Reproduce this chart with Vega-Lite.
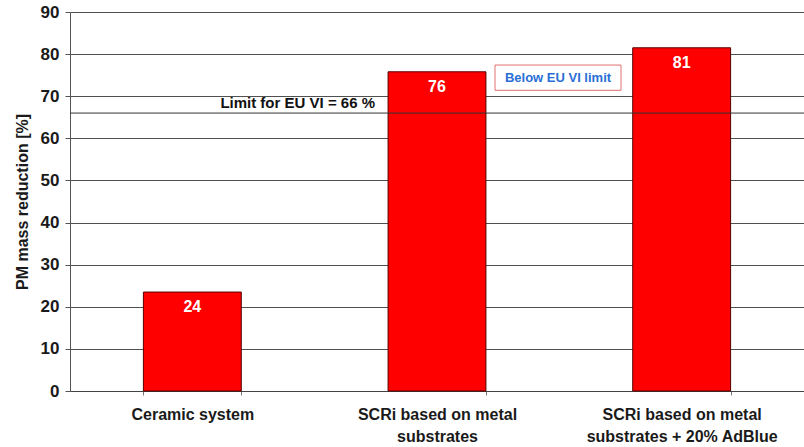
{
  "$schema": "https://vega.github.io/schema/vega-lite/v6.json",
  "width": 734,
  "height": 379,
  "autosize": "none",
  "padding": {"left": 70, "top": 12, "right": 0, "bottom": 56},
  "background": "white",
  "config": {
    "view": {"stroke": null},
    "font": "Liberation Sans"
  },
  "datasets": {
    "bars": [
      {"category": "Ceramic system", "value": 23.5, "label": "24"},
      {"category": "SCRi based on metal|substrates", "value": 75.8, "label": "76"},
      {"category": "SCRi based on metal|substrates + 20% AdBlue", "value": 81.5, "label": "81"}
    ],
    "limit": [
      {"category": "SCRi based on metal|substrates", "value": 66, "text": "Limit for EU VI = 66 %"}
    ],
    "note": [
      {"category": "SCRi based on metal|substrates", "low": 71.4, "high": 77.4, "mid": 74.4, "text": "Below EU VI limit"}
    ]
  },
  "encoding": {
    "x": {
      "field": "category",
      "type": "nominal",
      "sort": null,
      "scale": {
        "domain": ["Ceramic system", "SCRi based on metal|substrates", "SCRi based on metal|substrates + 20% AdBlue"],
        "paddingInner": 0.6,
        "paddingOuter": 0.3
      },
      "axis": {
        "title": null,
        "labelAngle": 0,
        "labelExpr": "isValid(datum.value) ? split(datum.value, '|') : ''",
        "labelFont": "Liberation Sans",
        "labelFontSize": 16,
        "labelFontWeight": "bold",
        "labelColor": "#1a1a1a",
        "labelPadding": 11,
        "labelLineHeight": 22,
        "labelLimit": 400,
        "labelOverlap": false,
        "tickBand": "extent",
        "tickSize": 4,
        "tickColor": "#777777",
        "domainColor": "#444444",
        "grid": false
      }
    }
  },
  "layer": [
    {
      "data": {"name": "bars"},
      "mark": {"type": "bar", "color": "#ff0000", "stroke": "#550000", "strokeWidth": 1},
      "encoding": {
        "y": {
          "field": "value",
          "type": "quantitative",
          "scale": {"domain": [0, 90], "nice": false},
          "axis": {
            "title": "PM mass reduction [%]",
            "titleFont": "Liberation Sans",
            "titleFontSize": 16,
            "titleFontWeight": "bold",
            "titleColor": "#1a1a1a",
            "titlePadding": 10,
            "values": [0, 10, 20, 30, 40, 50, 60, 70, 80, 90],
            "labelFont": "Liberation Sans",
            "labelFontSize": 17,
            "labelFontWeight": "bold",
            "labelColor": "#1a1a1a",
            "labelPadding": 6,
            "tickSize": 5,
            "tickColor": "#555555",
            "domainColor": "#555555",
            "grid": true,
            "gridColor": "#505050",
            "gridOpacity": 1,
            "gridWidth": 1
          }
        }
      }
    },
    {
      "data": {"name": "bars"},
      "mark": {"type": "text", "color": "white", "font": "Liberation Sans", "fontSize": 16, "fontWeight": "bold", "baseline": "top", "dy": 7},
      "encoding": {
        "y": {"field": "value", "type": "quantitative"},
        "text": {"field": "label"}
      }
    },
    {
      "data": {"name": "limit"},
      "mark": {"type": "rule", "color": "#333333", "strokeWidth": 1},
      "encoding": {
        "x": null,
        "y": {"field": "value", "type": "quantitative"}
      }
    },
    {
      "data": {"name": "limit"},
      "mark": {"type": "text", "color": "#111111", "font": "Liberation Sans", "fontSize": 15, "fontWeight": "bold", "align": "right", "baseline": "bottom", "dx": -62, "dy": -2},
      "encoding": {
        "y": {"field": "value", "type": "quantitative"},
        "text": {"field": "text"}
      }
    },
    {
      "data": {"name": "note"},
      "mark": {"type": "bar", "fill": "white", "stroke": "#e07070", "strokeWidth": 1, "width": 126, "xOffset": 121},
      "encoding": {
        "y": {"field": "low", "type": "quantitative"},
        "y2": {"field": "high"}
      }
    },
    {
      "data": {"name": "note"},
      "mark": {"type": "text", "color": "#2a6fd6", "font": "Liberation Sans", "fontSize": 13, "fontWeight": "bold", "align": "center", "baseline": "middle", "dx": 121},
      "encoding": {
        "y": {"field": "mid", "type": "quantitative"},
        "text": {"field": "text"}
      }
    }
  ]
}
